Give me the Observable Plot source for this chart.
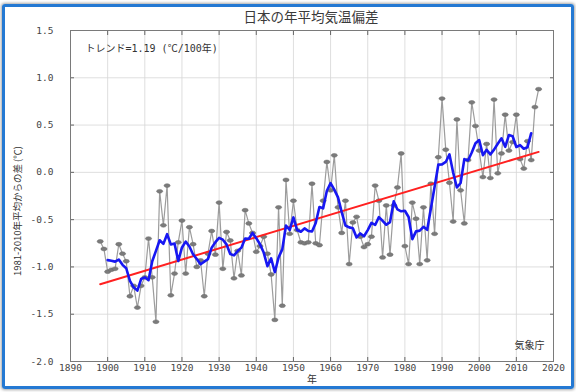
<!DOCTYPE html>
<html><head><meta charset="utf-8">
<script src="https://cdn.jsdelivr.net/npm/d3@7"></script>
<script src="https://cdn.jsdelivr.net/npm/@observablehq/plot@0.6"></script>
<style>
html,body{margin:0;padding:0;background:#fff;}
#wrap{position:relative;width:576px;height:392px;overflow:hidden;background:#fff;}
#chart{position:absolute;left:0;top:0;}
#border{position:absolute;left:2px;top:4px;width:566px;height:379px;border:3px solid #2479d3;border-radius:3px;box-shadow:0 0 3px 1px rgba(0,0,0,0.35);pointer-events:none;}
.t{position:absolute;font-family:"Noto Sans CJK JP",sans-serif;color:#333;white-space:nowrap;line-height:1;}
</style></head><body>
<div id="wrap">
  <div id="chart"></div>
  <div class="t" style="left:0;width:622px;top:10px;text-align:center;font-size:13.5px;color:#3a3a3a;">日本の年平均気温偏差</div>
  <div class="t" style="left:18px;top:211px;font-size:9.5px;transform:translate(-50%,-50%) rotate(-90deg);">1981-2010年平均からの差 (℃)</div>
  <div class="t" style="left:312px;top:379px;font-size:10px;transform:translate(-50%,-50%);">年</div>
  <div id="border"></div>
</div>
<script>
const years = [1898,1899,1900,1901,1902,1903,1904,1905,1906,1907,1908,1909,1910,1911,1912,1913,1914,1915,1916,1917,1918,1919,
1920,1921,1922,1923,1924,1925,1926,1927,1928,1929,1930,1931,1932,1933,1934,1935,1936,1937,1938,1939,
1940,1941,1942,1943,1944,1945,1946,1947,1948,1949,1950,1951,1952,1953,1954,1955,1956,1957,1958,1959,
1960,1961,1962,1963,1964,1965,1966,1967,1968,1969,1970,1971,1972,1973,1974,1975,1976,1977,1978,1979,
1980,1981,1982,1983,1984,1985,1986,1987,1988,1989,1990,1991,1992,1993,1994,1995,1996,1997,1998,1999,
2000,2001,2002,2003,2004,2005,2006,2007,2008,2009,2010,2011,2012,2013,2014,2015,2016];
const anomalies = [-0.73,-0.81,-1.05,-1.03,-1.02,-0.76,-0.86,-0.94,-1.31,-1.20,-1.43,-1.20,-1.11,-0.70,-1.11,-1.58,-0.20,-0.56,-0.14,-1.30,-1.07,-0.74,
-0.51,-1.07,-0.58,-0.76,-1.00,-0.93,-1.31,-0.86,-0.62,-0.87,-0.32,-1.02,-0.63,-0.72,-1.12,-0.83,-1.09,-0.40,-0.54,-0.64,
-0.84,-0.78,-0.68,-0.86,-1.08,-1.56,-0.37,-1.41,-0.08,-0.65,-0.30,-0.61,-0.74,-0.75,-0.74,-0.12,-0.75,-0.77,-0.30,0.11,
-0.19,0.18,-0.37,-0.64,-0.30,-0.97,-0.53,-0.47,-0.68,-0.79,-0.76,-0.68,-0.14,-0.30,-0.90,-0.35,-0.87,-0.35,-0.16,0.20,
-0.78,-0.97,-0.32,-0.49,-0.97,-0.37,-0.93,-0.12,-0.65,0.16,0.78,0.24,-0.11,-0.52,0.56,-0.19,-0.54,0.13,0.74,0.49,
0.23,-0.05,0.30,-0.06,0.77,-0.01,0.20,0.61,0.23,0.32,0.61,0.14,0.04,0.33,0.13,0.69,0.88];
const xTicks = [1890,1900,1910,1920,1930,1940,1950,1960,1970,1980,1990,2000,2010,2020];
const yTicks = [-2.0,-1.5,-1.0,-0.5,0.0,0.5,1.0,1.5];
const trendLabel = "トレンド=1.19 (℃/100年)";
const sourceLabel = "気象庁";

const data = years.map((year, i) => ({year, value: anomalies[i]}));

const ellipse = {
  draw(ctx, size) {
    const r = Math.sqrt(size / Math.PI);
    const rx = r * 1.35, ry = r * 0.82, k = 0.5523;
    ctx.moveTo(rx, 0);
    ctx.bezierCurveTo(rx, ry * k, rx * k, ry, 0, ry);
    ctx.bezierCurveTo(-rx * k, ry, -rx, ry * k, -rx, 0);
    ctx.bezierCurveTo(-rx, -ry * k, -rx * k, -ry, 0, -ry);
    ctx.bezierCurveTo(rx * k, -ry, rx, -ry * k, rx, 0);
    ctx.closePath();
  }
};

const chart = Plot.plot({
  width: 576, height: 392,
  marginLeft: 70, marginRight: 23, marginTop: 30, marginBottom: 31,
  x: {domain: [1890, 2020]},
  y: {domain: [-2, 1.5]},
  style: {fontFamily: "DejaVu Sans Mono", fontSize: "9.5px", color: "#444", background: "transparent"},
  marks: [
    Plot.gridX(xTicks, {stroke: "#d6d6d6", strokeOpacity: 1, strokeWidth: 0.8}),
    Plot.gridY(yTicks, {stroke: "#d6d6d6", strokeOpacity: 1, strokeWidth: 0.8}),
    Plot.axisX(xTicks, {anchor: "bottom", tickSize: -4, tickPadding: 7, tickFormat: d => String(d), label: null, stroke: "#666"}),
    Plot.axisX(xTicks, {anchor: "top", tickSize: -4, tickFormat: () => "", label: null, stroke: "#666"}),
    Plot.axisY(yTicks, {anchor: "left", tickSize: -4, tickPadding: 21, tickFormat: d => d.toFixed(1), label: null, stroke: "#666"}),
    Plot.axisY(yTicks, {anchor: "right", tickSize: -4, tickFormat: () => "", label: null, stroke: "#666"}),
    Plot.frame({stroke: "#7a7a7a"}),
    Plot.line(data, {x: "year", y: "value", stroke: "#9c9c9c", strokeWidth: 1.2}),
    Plot.dot(data, {x: "year", y: "value", r: 2.3, symbol: ellipse, fill: "#7b7b7b", stroke: "#666", strokeWidth: 0.5}),
    Plot.linearRegressionY(data, {x: "year", y: "value", stroke: "#ff2020", strokeWidth: 2, ci: 0}),
    Plot.lineY(data, Plot.windowY({k: 5, anchor: "middle", strict: true}, {x: "year", y: "value", stroke: "#1717f2", strokeWidth: 2.6})),
    Plot.text([trendLabel], {frameAnchor: "top-left", dx: 15, dy: 18, lineAnchor: "middle", textAnchor: "start", fontFamily: "DejaVu Sans Mono, Noto Sans CJK JP", fontSize: 10, fill: "#333"}),
    Plot.text([sourceLabel], {frameAnchor: "bottom-right", dx: -9, dy: -16, lineAnchor: "middle", textAnchor: "end", fontFamily: "Noto Sans CJK JP", fontSize: 10, fill: "#333"})
  ]
});
document.getElementById("chart").appendChild(chart);
</script>
</body></html>
